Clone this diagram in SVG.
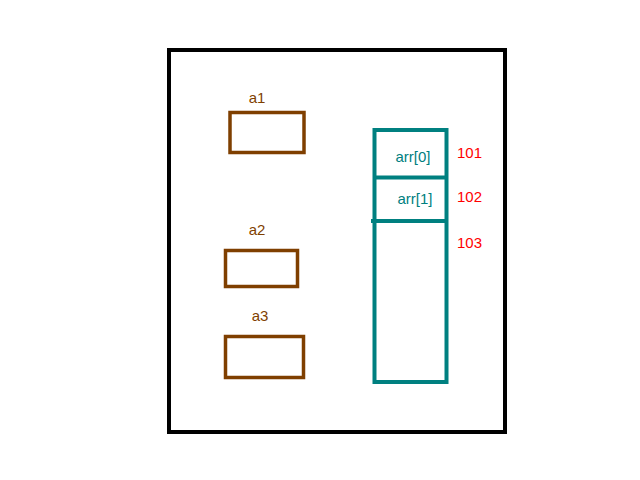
<svg xmlns="http://www.w3.org/2000/svg" width="640" height="480" viewBox="0 0 640 480">
<style>
.b{fill:none;stroke:#7f3f00;stroke-width:3.5}
.t{fill:none;stroke:#008080;stroke-width:4}
.lb{font-family:"Liberation Sans",Arial,sans-serif;font-size:15px;fill:#7f3f00;text-anchor:middle}
.lt{font-family:"Liberation Sans",Arial,sans-serif;font-size:15px;fill:#008080;text-anchor:middle}
.lr{font-family:"Liberation Sans",Arial,sans-serif;font-size:15px;fill:#ff0000}
</style>
<rect width="640" height="480" fill="#fff"/>
<g id="frame"><rect x="169" y="50" width="336" height="382" fill="none" stroke="#000" stroke-width="4"/></g>
<g id="a1"><rect class="b" x="230" y="112.5" width="74" height="40"/><text class="lb" x="257" y="103">a1</text></g>
<g id="a2"><rect class="b" x="225.5" y="250.5" width="72" height="36"/><text class="lb" x="257" y="235">a2</text></g>
<g id="a3"><rect class="b" x="225.5" y="336.5" width="78" height="41"/><text class="lb" x="260" y="321">a3</text></g>
<g id="arr">
<rect class="t" x="374.5" y="130" width="72" height="252"/>
<line class="t" x1="374.5" y1="177.5" x2="446.5" y2="177.5"/>
<line class="t" x1="371" y1="221" x2="446.5" y2="221"/>
<text class="lt" x="413" y="162">arr[0]</text>
<text class="lt" x="415" y="204">arr[1]</text>
</g>
<g id="addr">
<text class="lr" x="457" y="158">101</text>
<text class="lr" x="457" y="202">102</text>
<text class="lr" x="457" y="248">103</text>
</g>
</svg>
